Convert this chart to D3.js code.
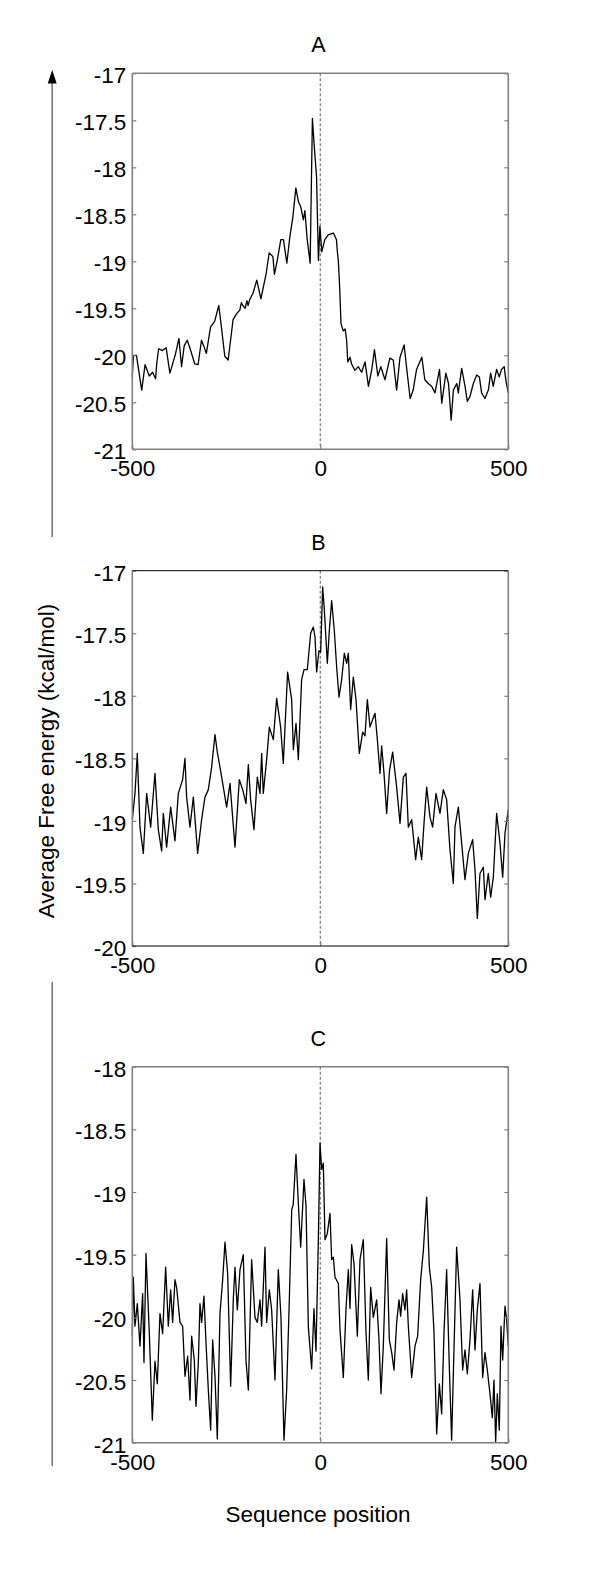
<!DOCTYPE html>
<html><head><meta charset="utf-8">
<script src="https://cdn.jsdelivr.net/npm/d3@7"></script>
<style>
body{margin:0;background:#fff}
svg text{font-family:"Liberation Sans",Arial,sans-serif;fill:#000}
</style>
</head><body>
<svg id="chart" width="600" height="1575"></svg>
<script>
// ---------- data ----------
const xTicks = [-500, 0, 500];
const xTickLabels = ["-500", "0", "500"];

const yTicksA = [-21, -20.5, -20, -19.5, -19, -18.5, -18, -17.5, -17];
const yTickLabelsA = ["-21", "-20.5", "-20", "-19.5", "-19", "-18.5", "-18", "-17.5", "-17"];
const yTicksB = [-20, -19.5, -19, -18.5, -18, -17.5, -17];
const yTickLabelsB = ["-20", "-19.5", "-19", "-18.5", "-18", "-17.5", "-17"];
const yTicksC = [-21, -20.5, -20, -19.5, -19, -18.5, -18];
const yTickLabelsC = ["-21", "-20.5", "-20", "-19.5", "-19", "-18.5", "-18"];

const posA = [-500,-497,-489,-475,-466,-455,-446,-438,-435,-430,-420,-410,-400,-386,-376,-369,-362,-354,-347,-334,-325,-316,-310,-303,-292,-281,-270,-263,-254,-245,-232,-223,-214,-210,-206,-200,-195,-192,-188,-179,-169,-158,-144,-136,-126,-122,-114,-105,-98,-89,-81,-73,-65,-58,-52,-45,-41,-35,-27,-21,-16,-10,-5,-1,4,12,21,35,43,45,48,51,55,61,66,70,73,79,83,92,101,110,119,128,137,144,153,161,172,185,194,203,212,223,230,239,247,256,270,278,287,296,305,317,323,334,341,348,354,363,367,376,385,391,398,407,416,423,429,438,447,453,460,469,476,482,489,494,500];
const valA = [-20.23,-20.0,-20.0,-20.37,-20.10,-20.22,-20.18,-20.25,-20.09,-19.93,-19.95,-19.92,-20.19,-20.0,-19.82,-20.12,-19.9,-19.84,-19.92,-20.09,-20.1,-19.84,-19.9,-19.98,-19.70,-19.64,-19.47,-19.70,-20.01,-20.05,-19.62,-19.56,-19.52,-19.44,-19.47,-19.5,-19.42,-19.47,-19.41,-19.34,-19.2,-19.4,-19.13,-18.91,-18.95,-19.14,-18.98,-18.77,-18.77,-19.02,-18.74,-18.53,-18.22,-18.37,-18.42,-18.56,-18.46,-18.76,-19.02,-17.48,-17.78,-18.1,-18.99,-18.63,-18.9,-18.77,-18.72,-18.7,-18.77,-18.88,-19.0,-19.23,-19.66,-19.74,-19.72,-19.84,-20.07,-20.02,-20.09,-20.16,-20.12,-20.18,-20.07,-20.33,-20.15,-19.94,-20.22,-20.12,-20.26,-20.03,-20.05,-20.37,-20.02,-19.89,-20.15,-20.46,-20.37,-20.15,-20.02,-20.26,-20.30,-20.33,-20.40,-20.15,-20.51,-20.19,-20.30,-20.69,-20.37,-20.3,-20.40,-20.14,-20.33,-20.49,-20.44,-20.30,-20.21,-20.23,-20.4,-20.46,-20.37,-20.19,-20.33,-20.15,-20.23,-20.15,-20.12,-20.28,-20.40];

const posB = [-500,-492.9,-486.7,-479.6,-470.7,-461.8,-451.2,-439.7,-430.8,-422,-417.5,-408.7,-398,-386.5,-377.6,-366.1,-359.9,-355.5,-346.6,-337.7,-326.2,-315.6,-306.7,-297.8,-289,-280.1,-273.9,-266.8,-257.9,-249.1,-240.2,-226.9,-215.4,-206.5,-197.7,-191.4,-185.3,-176.4,-167.5,-160.4,-156,-151.6,-142.7,-135.6,-125,-116.1,-105.5,-98.4,-86.9,-76.2,-71.7,-64.6,-58.4,-49.6,-43.4,-34.5,-25.6,-18.6,-14.1,-9.7,-3.5,1,6.3,10.7,18.7,24,30.2,37.3,43.5,49.7,56.8,63.9,70.1,74.5,80.7,87.8,94.9,103.8,112.7,118.9,125.1,132.2,139.2,145.5,151.7,158.8,163.2,169.4,176.5,184,192.4,203.1,212,220.8,227.9,234.1,243,253.6,260.7,269.6,275.8,282.9,291.7,298.8,307.7,318.3,327.2,336,344.9,353.8,358.2,367.1,376,384.8,393.7,405.2,411.4,417.6,424.7,433.6,438,446.9,453.1,460.2,469,477.9,485,491.2,500];
const valB = [-18.99,-18.78,-18.46,-19.05,-19.26,-18.78,-19.05,-18.62,-19.07,-19.24,-18.94,-19.21,-18.89,-19.16,-18.78,-18.67,-18.5,-18.81,-19.05,-18.81,-19.26,-18.99,-18.81,-18.75,-18.57,-18.31,-18.45,-18.57,-18.73,-18.89,-18.70,-19.21,-18.67,-18.75,-18.86,-18.55,-18.83,-19.07,-18.65,-18.78,-18.46,-18.78,-18.51,-18.25,-18.35,-18.02,-18.25,-18.54,-17.81,-18.03,-18.43,-18.22,-18.51,-17.87,-17.79,-17.79,-17.50,-17.45,-17.53,-17.81,-17.64,-17.65,-17.13,-17.31,-17.74,-17.48,-17.24,-17.48,-17.77,-18.01,-17.87,-17.66,-17.74,-17.66,-18.11,-17.85,-18.03,-18.46,-18.29,-18.32,-18.03,-18.25,-18.19,-18.14,-18.35,-18.62,-18.40,-18.62,-18.94,-18.6,-18.45,-18.73,-19.02,-18.65,-18.62,-19.05,-18.99,-19.31,-19.13,-19.31,-19.02,-18.73,-18.97,-19.05,-18.78,-18.94,-18.75,-18.83,-19.23,-19.5,-19.05,-18.89,-19.18,-19.47,-19.26,-19.15,-19.39,-19.78,-19.42,-19.37,-19.63,-19.42,-19.61,-19.45,-18.94,-19.18,-19.45,-19.1,-18.91];

const posC = [-500,-497.3,-492.9,-486.7,-479.6,-472.5,-468.9,-463.6,-454.7,-446.8,-439.7,-433.5,-426.4,-419.3,-411.3,-404.2,-398,-392.7,-386.5,-382.1,-373.2,-366.1,-359.9,-352.8,-346.6,-342.2,-335.1,-330.6,-324.4,-320,-315.6,-309.4,-304,-297.8,-291.6,-286.3,-280.1,-273.9,-266.8,-259.7,-253.5,-246.4,-238.4,-231.4,-226.9,-220.7,-213.6,-204.8,-197.7,-191.4,-182.6,-173.7,-167.5,-160.4,-156,-147.1,-142.7,-135.6,-129.4,-120.5,-111.7,-104.6,-96.6,-89.5,-82.4,-76,-72,-64.7,-58.4,-52.2,-43.4,-38,-31.8,-23,-16.8,-11.5,-5.3,-0.8,3.6,8,12.5,18.7,25.8,30.2,34.6,39.1,48,52.4,61.2,68.3,74.5,79,83.4,89.6,98.5,105.6,114.4,121.5,127.7,133.9,141,149.9,156.1,161.4,167.6,176.5,183.6,189.8,196,203.1,209.3,213.7,219,225.2,229.7,234.1,243,251.8,258.9,266.9,274,282.9,290,296.2,302.4,309.5,316.6,322.8,329,336,343.2,349.3,355.5,362.6,371.5,378.6,384.8,391,398.1,405.2,411.4,417.6,424.7,431.8,438,444.2,451.3,457.5,461.9,466.4,470.8,476.1,480.5,485,491.2,495.6,500];
const valC = [-20.15,-19.68,-20.07,-19.89,-20.23,-19.81,-20.36,-19.49,-20.13,-20.82,-20.35,-20.53,-19.97,-20.13,-19.6,-20.07,-19.78,-20.04,-19.7,-19.76,-20.04,-20.07,-20.47,-20.31,-20.66,-20.15,-20.34,-20.71,-20.36,-19.89,-20.04,-19.83,-20.2,-20.58,-20.9,-20.18,-20.47,-20.97,-19.97,-19.7,-19.4,-19.65,-20.55,-19.86,-19.6,-19.94,-19.62,-19.5,-20.34,-20.58,-19.54,-20.0,-20.04,-19.86,-20.07,-19.44,-20.04,-19.78,-19.94,-20.5,-19.62,-20.0,-20.98,-20.58,-19.86,-19.14,-19.1,-18.70,-19.09,-19.44,-18.9,-19.11,-20.08,-20.41,-19.93,-20.27,-19.4,-18.61,-18.82,-18.77,-19.38,-19.33,-19.17,-19.54,-19.52,-19.68,-19.73,-20.1,-20.48,-19.94,-19.62,-19.93,-19.42,-19.57,-20.15,-19.54,-19.38,-20.12,-20.50,-19.76,-20.0,-19.86,-20.18,-20.61,-20.23,-19.37,-20.18,-20.28,-20.42,-20.04,-19.86,-19.99,-19.81,-19.94,-19.78,-20.07,-20.48,-20.23,-20.15,-19.70,-19.47,-19.04,-19.6,-19.76,-20.12,-20.93,-20.53,-20.77,-20.12,-19.62,-20.4,-20.98,-20.26,-19.44,-19.86,-20.42,-20.26,-20.45,-20.18,-19.78,-20.26,-19.94,-19.73,-20.48,-20.28,-20.42,-20.61,-20.80,-20.50,-20.99,-20.61,-20.9,-20.07,-20.34,-19.91,-20.02,-20.23];

const titles = ["A", "B", "C"];
const yLabel = "Average Free energy (kcal/mol)";
const xLabel = "Sequence position";

// ---------- layout ----------
const svg = d3.select("#chart");
const L = 132.3, R = 508.3;
const GRAY = "#808080";
const FS = 22.5;
const panels = [
  {pos: posA, val: valA, dom: [-21, -17], ticks: yTicksA, labels: yTickLabelsA, top: 73.3, bottom: 449.3, hColor: GRAY, hW: 1.6},
  {pos: posB, val: valB, dom: [-20, -17], ticks: yTicksB, labels: yTickLabelsB, top: 570.7, bottom: 946, hColor: "#000", hW: 1},
  {pos: posC, val: valC, dom: [-21, -18], ticks: yTicksC, labels: yTickLabelsC, top: 1066.7, bottom: 1442.7, hColor: GRAY, hW: 1.6}
];

panels.forEach((p, i) => {
  const x = d3.scaleLinear().domain([-500, 500]).range([L, R]);
  const y = d3.scaleLinear().domain(p.dom).range([p.bottom, p.top]);
  const g = svg.append("g");

  // zero dashed line
  g.append("line")
    .attr("x1", x(0)).attr("x2", x(0)).attr("y1", p.top).attr("y2", p.bottom)
    .attr("stroke", GRAY).attr("stroke-width", 1.3).attr("stroke-dasharray", "3,2");

  // data line
  const pts = d3.zip(p.pos, p.val);
  g.append("path").datum(pts)
    .attr("fill", "none").attr("stroke", "#000").attr("stroke-width", 1.3)
    .attr("stroke-linejoin", "round")
    .attr("d", d3.line().x(d => x(d[0])).y(d => y(d[1])));

  // axes
  const ax = g.append("g").attr("transform", `translate(${L},0)`)
    .call(d3.axisLeft(y).tickValues(p.ticks).tickFormat((d, k) => p.labels[k]).tickSize(-4).tickPadding(6));
  const axr = g.append("g").attr("transform", `translate(${R},0)`)
    .call(d3.axisRight(y).tickValues(p.ticks).tickFormat("").tickSize(-4));
  const axb = g.append("g").attr("transform", `translate(0,${p.bottom})`)
    .call(d3.axisBottom(x).tickValues(xTicks).tickFormat((d, k) => xTickLabels[k]).tickSize(-4).tickPadding(11));
  [ax, axr, axb].forEach(a => {
    a.select(".domain").remove();
    a.selectAll(".tick line").attr("stroke", GRAY).attr("stroke-width", 1.2);
    a.selectAll("text").attr("font-size", FS).attr("font-family", "'Liberation Sans',Arial,sans-serif").attr("fill", "#000");
  });
  ax.selectAll("text").attr("dy", "0.42em");

  // frame
  g.append("line").attr("x1", L).attr("x2", L).attr("y1", p.top).attr("y2", p.bottom).attr("stroke", GRAY).attr("stroke-width", 1.6);
  g.append("line").attr("x1", R).attr("x2", R).attr("y1", p.top).attr("y2", p.bottom).attr("stroke", GRAY).attr("stroke-width", 1.6);
  g.append("line").attr("x1", L).attr("x2", R).attr("y1", p.top).attr("y2", p.top).attr("stroke", p.hColor).attr("stroke-width", p.hW);
  g.append("line").attr("x1", L).attr("x2", R).attr("y1", p.bottom).attr("y2", p.bottom).attr("stroke", p.hColor).attr("stroke-width", p.hW);

  // title
  g.append("text").attr("x", x(0) - 2).attr("y", p.top - 21)
    .attr("text-anchor", "middle").attr("font-size", 21.5).text(titles[i]);
});

// vertical arrow line
const AX = 52.2;
svg.append("line").attr("x1", AX).attr("x2", AX).attr("y1", 80).attr("y2", 537).attr("stroke", GRAY).attr("stroke-width", 1.7);
svg.append("line").attr("x1", AX).attr("x2", AX).attr("y1", 982).attr("y2", 1466).attr("stroke", GRAY).attr("stroke-width", 1.7);
svg.append("path").attr("d", `M${AX},70 L${AX - 4.5},83.5 L${AX + 4.5},83.5 Z`).attr("fill", "#000");

// axis labels
svg.append("text").attr("transform", "translate(53.5,761) rotate(-90)")
  .attr("text-anchor", "middle").attr("font-size", FS).text(yLabel);
svg.append("text").attr("x", 318).attr("y", 1522)
  .attr("text-anchor", "middle").attr("font-size", FS).text(xLabel);
</script>
</body></html>
